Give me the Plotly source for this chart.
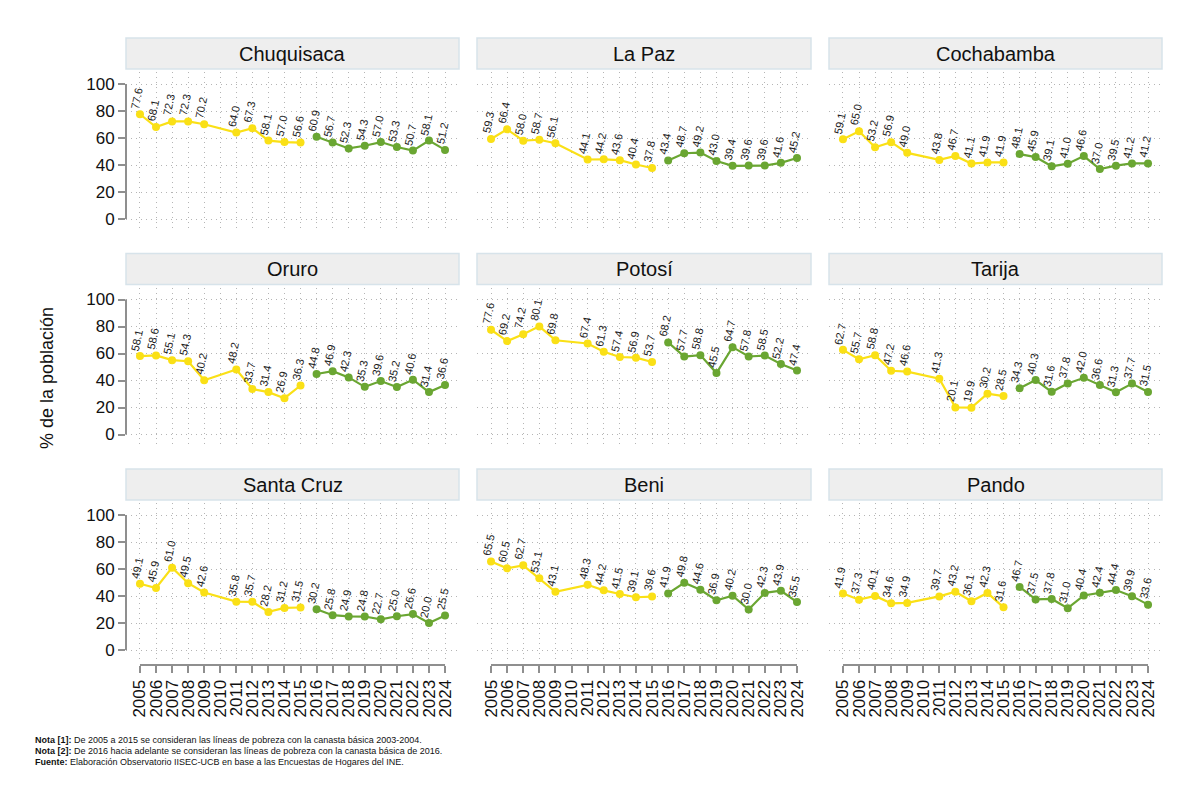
import plotly.graph_objects as go

# ---------------- data ----------------
departments = ["Chuquisaca", "La Paz", "Cochabamba",
               "Oruro", "Potosí", "Tarija",
               "Santa Cruz", "Beni", "Pando"]

years_old = [2005, 2006, 2007, 2008, 2009, 2011, 2012, 2013, 2014, 2015]
years_new = [2016, 2017, 2018, 2019, 2020, 2021, 2022, 2023, 2024]
tick_years = list(range(2005, 2025))

chuquisaca_old = [77.6, 68.1, 72.3, 72.3, 70.2, 64.0, 67.3, 58.1, 57.0, 56.6]
chuquisaca_new = [60.9, 56.7, 52.3, 54.3, 57.0, 53.3, 50.7, 58.1, 51.2]
lapaz_old = [59.3, 66.4, 58.0, 58.7, 56.1, 44.1, 44.2, 43.6, 40.4, 37.8]
lapaz_new = [43.4, 48.7, 49.2, 43.0, 39.4, 39.6, 39.6, 41.6, 45.2]
cochabamba_old = [59.1, 65.0, 53.2, 56.9, 49.0, 43.8, 46.7, 41.1, 41.9, 41.9]
cochabamba_new = [48.1, 45.9, 39.1, 41.0, 46.6, 37.0, 39.5, 41.2, 41.2]
oruro_old = [58.1, 58.6, 55.1, 54.3, 40.2, 48.2, 33.7, 31.4, 26.9, 36.3]
oruro_new = [44.8, 46.9, 42.3, 35.3, 39.6, 35.2, 40.6, 31.4, 36.6]
potosi_old = [77.6, 69.2, 74.2, 80.1, 69.8, 67.4, 61.3, 57.4, 56.9, 53.7]
potosi_new = [68.2, 57.7, 58.8, 45.5, 64.7, 57.8, 58.5, 52.2, 47.4]
tarija_old = [62.7, 55.7, 58.8, 47.2, 46.6, 41.3, 20.1, 19.9, 30.2, 28.5]
tarija_new = [34.3, 40.3, 31.6, 37.8, 42.0, 36.6, 31.3, 37.7, 31.5]
santacruz_old = [49.1, 45.9, 61.0, 49.5, 42.6, 35.8, 35.7, 28.2, 31.2, 31.5]
santacruz_new = [30.2, 25.8, 24.9, 24.8, 22.7, 25.0, 26.6, 20.0, 25.5]
beni_old = [65.5, 60.5, 62.7, 53.1, 43.1, 48.3, 44.2, 41.5, 39.1, 39.6]
beni_new = [41.9, 49.8, 44.6, 36.9, 40.2, 30.0, 42.3, 43.9, 35.5]
pando_old = [41.9, 37.3, 40.1, 34.6, 34.9, 39.7, 43.2, 36.1, 42.3, 31.6]
pando_new = [46.7, 37.5, 37.8, 31.0, 40.4, 42.4, 44.4, 39.9, 33.6]

series_old = [chuquisaca_old, lapaz_old, cochabamba_old, oruro_old, potosi_old,
              tarija_old, santacruz_old, beni_old, pando_old]
series_new = [chuquisaca_new, lapaz_new, cochabamba_new, oruro_new, potosi_new,
              tarija_new, santacruz_new, beni_new, pando_new]

y_ticks = [0, 20, 40, 60, 80, 100]

# ---------------- layout geometry ----------------
W, H = 1200, 801
YELLOW = "#FAE016"
GREEN = "#6AA632"
AXIS_GRAY = "#8F8F8F"
GRID_GRAY = "#B5B5B5"
FONT = "Liberation Sans, Arial, sans-serif"

col_px = [(126, 459), (477, 811), (829, 1162)]
row_px = [(72, 229), (287.5, 444.5), (503, 660)]          # plot areas (top, bottom)
strip_px = [(38, 69), (253.5, 284.5), (469, 500)]
x_range = [2005 - 0.87, 2024 + 0.87]
y_range = [-7.4, 108.9]
xaxis_line_px = 665

fig = go.Figure()
shapes = []
annotations = []

for i, dep in enumerate(departments):
    r, c = divmod(i, 3)
    n = i + 1
    xa = f"x{n}" if n > 1 else "x"
    ya = f"y{n}" if n > 1 else "y"
    xkey = f"xaxis{n}" if n > 1 else "xaxis"
    ykey = f"yaxis{n}" if n > 1 else "yaxis"

    for yrs, vals, col in ((years_old, series_old[i], YELLOW),
                           (years_new, series_new[i], GREEN)):
        fig.add_trace(go.Scatter(
            x=yrs, y=vals, mode="lines+markers",
            line=dict(color=col, width=2.2),
            marker=dict(color=col, size=8),
            xaxis=xa, yaxis=ya, showlegend=False, hoverinfo="x+y"))
        for xv, yv in zip(yrs, vals):
            annotations.append(dict(
                x=xv, y=yv, xref=xa, yref=ya, text=f"{yv:.1f}",
                showarrow=False, textangle=-78, xshift=-3, yshift=16,
                font=dict(family=FONT, size=11, color="#222222")))

    x0, x1 = col_px[c]
    top, bot = row_px[r]
    bottom_row = (r == 2)
    left_col = (c == 0)

    xaxis = dict(
        domain=[x0 / W, x1 / W], range=x_range,
        tickmode="array", tickvals=tick_years,
        showgrid=True, gridcolor=GRID_GRAY, griddash="1px,4px", gridwidth=1,
        zeroline=False, showline=False,
        showticklabels=bottom_row,
        ticks="outside" if bottom_row else "",
        ticklen=7, tickwidth=1.5, tickcolor=AXIS_GRAY,
        tickangle=-90,
        tickfont=dict(family=FONT, size=17, color="#111111"),
        anchor=ya,
    )
    if bottom_row:
        xaxis["anchor"] = "free"
        xaxis["position"] = 1 - xaxis_line_px / H
    yaxis = dict(
        domain=[1 - bot / H, 1 - top / H], range=y_range,
        tickmode="array", tickvals=y_ticks,
        showgrid=True, gridcolor=GRID_GRAY, griddash="1px,4px", gridwidth=1,
        zeroline=False, showline=False,
        showticklabels=left_col,
        ticks="outside" if left_col else "",
        ticklen=7, tickwidth=1.5, tickcolor=AXIS_GRAY,
        tickfont=dict(family=FONT, size=17, color="#111111"),
        anchor=xa,
    )
    fig.update_layout(**{xkey: xaxis, ykey: yaxis})

    # y axis line (left column only), spanning 0-100
    if left_col:
        shapes.append(dict(type="line", xref="paper", yref=ya,
                           x0=x0 / W, x1=x0 / W, y0=0, y1=100,
                           line=dict(color=AXIS_GRAY, width=2)))
    # x axis line (bottom row only), spanning 2005-2024
    if bottom_row:
        shapes.append(dict(type="line", xref=xa, yref="paper",
                           x0=2005, x1=2024,
                           y0=1 - xaxis_line_px / H, y1=1 - xaxis_line_px / H,
                           line=dict(color=AXIS_GRAY, width=2)))

    # strip
    s0, s1 = strip_px[r]
    shapes.append(dict(type="rect", xref="paper", yref="paper",
                       x0=x0 / W, x1=x1 / W, y0=1 - s1 / H, y1=1 - s0 / H,
                       fillcolor="#EEEEEE", line=dict(color="#D7E3EA", width=1.5),
                       layer="below"))
    annotations.append(dict(x=(x0 + x1) / 2 / W, y=1 - (s0 + s1) / 2 / H,
                            xref="paper", yref="paper", text=dep, showarrow=False,
                            xanchor="center", yanchor="middle",
                            font=dict(family=FONT, size=20, color="#111111")))

# y axis title
annotations.append(dict(x=47 / W, y=1 - 378 / H, xref="paper", yref="paper",
                        text="% de la población", showarrow=False, textangle=-90,
                        xanchor="center", yanchor="middle",
                        font=dict(family=FONT, size=18, color="#111111")))

notes = [
    "<b>Nota [1]:</b> De 2005 a 2015 se consideran las líneas de pobreza con la canasta básica 2003-2004.",
    "<b>Nota [2]:</b> De 2016 hacia adelante se consideran las líneas de pobreza con la canasta básica de 2016.",
    "<b>Fuente:</b> Elaboración Observatorio IISEC-UCB en base a las Encuestas de Hogares del INE.",
]
for k, t in enumerate(notes):
    annotations.append(dict(x=33 / W, y=1 - (740 + 11 * k) / H, xref="paper", yref="paper",
                            text=t, showarrow=False, xanchor="left", yanchor="middle",
                            font=dict(family=FONT, size=9, color="#111111")))

fig.update_layout(
    width=W, height=H,
    margin=dict(l=0, r=0, t=0, b=0),
    paper_bgcolor="white", plot_bgcolor="white",
    shapes=shapes, annotations=annotations,
    font=dict(family=FONT),
)

fig.write_html("out.html")
